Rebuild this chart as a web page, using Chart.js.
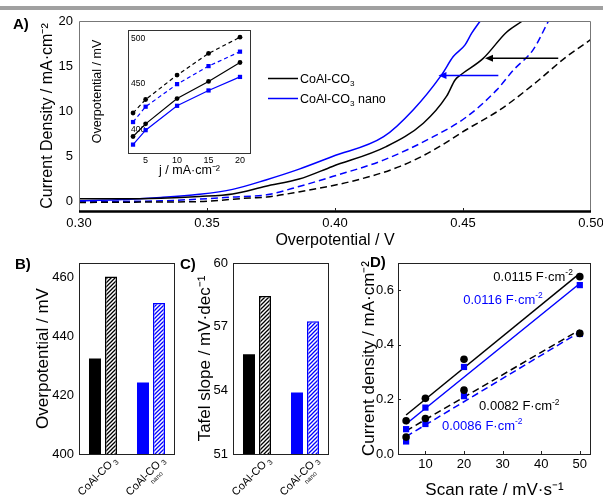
<!DOCTYPE html>
<html>
<head>
<meta charset="utf-8">
<title>CoAl-CO3 OER</title>
<script src="https://cdn.jsdelivr.net/npm/chart.js@4.4.1/dist/chart.umd.min.js"></script>
<style>
  body { margin: 0; background: #fff; }
  #page { position: relative; width: 603px; height: 495px; overflow: hidden; font-family: "Liberation Sans", Arial, sans-serif; }
  #page canvas { position: absolute; }
  #topbar { position: absolute; left: 0; top: 6px; width: 603px; height: 4px; background: #a0a0a0; }
  .tag { position: absolute; font-weight: bold; font-size: 15px; line-height: 15px; color: #000; }
</style>
</head>
<body>
<div id="page">
  <div id="topbar"></div>
  <canvas id="cA" width="603" height="250" style="left:0;top:0"></canvas>
  <canvas id="cIn" width="180" height="160" style="left:80px;top:24px"></canvas>
  <canvas id="cB" width="185" height="250" style="left:0;top:245px"></canvas>
  <canvas id="cC" width="155" height="250" style="left:185px;top:245px"></canvas>
  <canvas id="cD" width="263" height="258" style="left:340px;top:245px"></canvas>
  <div class="tag" style="left:13px;top:16px">A)</div>
  <div class="tag" style="left:15px;top:256px">B)</div>
  <div class="tag" style="left:180px;top:256px">C)</div>
  <div class="tag" style="left:370px;top:254px">D)</div>
</div>
<script>
// ---------- data ----------
var blue = '#0000ff';

// A) polarisation curves, overpotential (V) vs current density (mA cm-2)
var potBlack = [0.300, 0.315, 0.332, 0.347, 0.360, 0.373, 0.386, 0.399, 0.420, 0.4345, 0.4436, 0.4469, 0.4488, 0.4579, 0.467, 0.4729];
var curBlack = [0.30, 0.30, 0.37, 0.56, 0.85, 1.70, 2.50, 3.90, 6.10, 8.70, 11.7, 13.5, 14.0, 15.9, 18.8, 20.0];
var potBlue = [0.300, 0.315, 0.332, 0.347, 0.360, 0.373, 0.386, 0.399, 0.419, 0.4306, 0.4417, 0.4462, 0.4508, 0.4534, 0.4566];
var curBlue = [0.10, 0.20, 0.45, 0.80, 1.35, 2.40, 3.60, 5.00, 7.20, 10.2, 14.1, 16.1, 17.4, 18.7, 20.0];
var potBlackDash = [0.300, 0.332, 0.347, 0.3668, 0.3733, 0.3863, 0.4059, 0.4254, 0.4384, 0.4514, 0.4645, 0.4775, 0.4905, 0.500];
var curBlackDash = [-0.1, -0.05, 0.0, 0.4, 0.5, 1.1, 2.2, 3.9, 5.7, 8.0, 10.2, 13.0, 16.1, 18.0];
var potBlueDash = [0.300, 0.332, 0.347, 0.360, 0.3733, 0.3863, 0.3993, 0.4189, 0.4384, 0.4514, 0.4632, 0.4697, 0.4775, 0.4833];
var curBlueDash = [0.0, 0.08, 0.27, 0.50, 0.75, 1.7, 2.8, 4.6, 7.2, 9.4, 12.4, 14.6, 16.9, 20.0];
var potTicks = [0.30, 0.35, 0.40, 0.45, 0.50];
var curTicks = [0, 5, 10, 15, 20];
// arrows: [from V, to V, at j]
var arrowBlack = [0.4872, 0.4586, 15.9];
var arrowBlue = [0.4638, 0.4404, 14.0];
var legendNames = ['CoAl-CO', 'CoAl-CO'];
var legendSubs = ['3', '3'];
var legendTails = ['', ' nano'];

// inset: overpotential (mV) at given j
var insetJ = [3, 5, 10, 15, 20];
var insetBlackDash = [418, 433, 460, 484, 502];
var insetBlueDash = [408, 425, 450, 470, 486];
var insetBlack = [392, 406, 434, 453, 474];
var insetBlue = [383, 399, 426, 443, 458];
var insetXTicks = [5, 10, 15, 20];
var insetYTicks = [400, 450, 500];

// B) and C) bars
var barNames = ['CoAl-CO', 'CoAl-CO'];
var barSubs = ['3', '3'];
var barNotes = ['', 'nano'];
var overpotSolid = [432.5, 424.3];
var overpotHatched = [460.4, 451.4];
var overpotTicks = [400, 420, 440, 460];
var tafelSolid = [55.7, 53.9];
var tafelHatched = [58.45, 57.25];
var tafelTicks = [51, 54, 57, 60];

// D) double layer capacitance
var scanRates = [5, 10, 20, 50];
var dBlackUpper = [0.122, 0.204, 0.347, 0.650];
var dBlueUpper = [0.091, 0.170, 0.319, 0.619];
var dBlackLower = [0.062, 0.130, 0.234, 0.442];
var dBlueLower = [0.046, 0.110, 0.212, 0.440];
var fitX = [5, 50];
var fitBlackUpper = [0.143, 0.662];
var fitBlueUpper = [0.110, 0.625];
var fitBlackLower = [0.085, 0.455];
var fitBlueLower = [0.064, 0.447];
var capValues = ['0.0115', '0.0116', '0.0082', '0.0086'];
var scanTicks = [10, 20, 30, 40, 50];
var dYTicks = [0, 0.2, 0.4, 0.6];

// ---------- helpers ----------
var FONT = '"Liberation Sans", Arial, sans-serif';
Chart.defaults.font.family = FONT;
Chart.defaults.color = '#000';
Chart.defaults.animation = false;
Chart.defaults.responsive = false;
Chart.defaults.plugins.legend.display = false;
Chart.defaults.plugins.tooltip.enabled = false;

function xy(xs, ys) {
  return xs.map(function (x, i) { return { x: x, y: ys[i] }; });
}
function fixedTicks(vals) {
  return function (scale) { scale.ticks = vals.map(function (v) { return { value: v }; }); };
}
function fixBox(size, horiz) {
  return function (scale) {
    if (horiz) scale.height = size; else scale.width = size;
    scale.paddingTop = 0; scale.paddingBottom = 0;
    scale.paddingLeft = 0; scale.paddingRight = 0;
  };
}
function hatch(color) {
  var c = document.createElement('canvas');
  c.width = 4; c.height = 4;
  var g = c.getContext('2d');
  g.fillStyle = '#fff';
  g.fillRect(0, 0, 4, 4);
  g.strokeStyle = color;
  g.lineWidth = 1.3;
  g.beginPath();
  g.moveTo(0, 4); g.lineTo(4, 0);
  g.moveTo(-1, 1); g.lineTo(1, -1);
  g.moveTo(3, 5); g.lineTo(5, 3);
  g.stroke();
  return g.createPattern(c, 'repeat');
}
// parts: [text, 'sup'|'sub'|undefined]
function richText(ctx, x, y, parts, size, color) {
  ctx.save();
  ctx.fillStyle = color;
  ctx.textBaseline = 'alphabetic';
  ctx.textAlign = 'left';
  parts.forEach(function (p) {
    var s = p[1] ? size * 0.65 : size;
    ctx.font = s + 'px ' + FONT;
    var dy = p[1] === 'sup' ? -size * 0.42 : (p[1] === 'sub' ? size * 0.25 : 0);
    ctx.fillText(p[0], x, y + dy);
    x += ctx.measureText(p[0]).width;
  });
  ctx.restore();
}
function arrow(ctx, x1, x2, y, color) {
  ctx.save();
  ctx.strokeStyle = color; ctx.fillStyle = color; ctx.lineWidth = 1.5;
  ctx.beginPath(); ctx.moveTo(x1, y); ctx.lineTo(x2 + 6, y); ctx.stroke();
  ctx.beginPath(); ctx.moveTo(x2, y); ctx.lineTo(x2 + 8, y - 3.5); ctx.lineTo(x2 + 8, y + 3.5); ctx.closePath(); ctx.fill();
  ctx.restore();
}
// small tick marks pointing into the plot area
function innerTicks(chart, xVals, yVals, len) {
  var ctx = chart.ctx, a = chart.chartArea, xs = chart.scales.x, ys = chart.scales.y;
  ctx.save();
  ctx.strokeStyle = '#222'; ctx.lineWidth = 1;
  ctx.beginPath();
  xVals.forEach(function (v) {
    var px = Math.round(xs.getPixelForValue(v)) + 0.5;
    ctx.moveTo(px, a.bottom); ctx.lineTo(px, a.bottom - len);
  });
  yVals.forEach(function (v) {
    var py = Math.round(ys.getPixelForValue(v)) + 0.5;
    ctx.moveTo(a.left, py); ctx.lineTo(a.left + len, py);
  });
  ctx.stroke();
  ctx.restore();
}

var framePlugin = {
  id: 'frame',
  afterDatasetsDraw: function (chart, args, opts) {
    var a = chart.chartArea, ctx = chart.ctx;
    ctx.save();
    ctx.strokeStyle = opts.color || '#222';
    ctx.lineWidth = opts.width || 1;
    ctx.strokeRect(Math.round(a.left) + 0.5, Math.round(a.top) + 0.5, Math.round(a.right - a.left) - 1, Math.round(a.bottom - a.top));
    ctx.restore();
  }
};

// ---------- A) main curves ----------
var panelAPlugin = {
  id: 'panelA',
  afterDatasetsDraw: function (chart) {
    var ctx = chart.ctx, a = chart.chartArea, xs = chart.scales.x, ys = chart.scales.y;
    ctx.save();
    ctx.lineWidth = 1; ctx.strokeStyle = '#777';
    ctx.beginPath();
    ctx.moveTo(a.left + 0.5, a.bottom); ctx.lineTo(a.left + 0.5, a.top + 0.5);
    ctx.lineTo(a.right - 0.5, a.top + 0.5); ctx.lineTo(a.right - 0.5, a.bottom);
    ctx.stroke();
    ctx.lineWidth = 2.5; ctx.strokeStyle = '#000';
    ctx.beginPath(); ctx.moveTo(a.left, a.bottom + 0.5); ctx.lineTo(a.right, a.bottom + 0.5); ctx.stroke();
    ctx.restore();
    innerTicks(chart, potTicks.slice(1, 4), [], 3);

    arrow(ctx, xs.getPixelForValue(arrowBlack[0]), xs.getPixelForValue(arrowBlack[1]), ys.getPixelForValue(arrowBlack[2]), '#000');
    arrow(ctx, xs.getPixelForValue(arrowBlue[0]), xs.getPixelForValue(arrowBlue[1]), ys.getPixelForValue(arrowBlue[2]), blue);

    // legend
    var cols = ['#000', blue];
    for (var i = 0; i < 2; i++) {
      var ly = 78.5 + i * 20;
      ctx.save();
      ctx.strokeStyle = cols[i]; ctx.lineWidth = 1.5;
      ctx.beginPath(); ctx.moveTo(268, ly); ctx.lineTo(298, ly); ctx.stroke();
      ctx.restore();
      var parts = [[legendNames[i]], [legendSubs[i], 'sub']];
      if (legendTails[i]) parts.push([legendTails[i]]);
      richText(ctx, 300, ly + 4.5, parts, 12.5, '#000');
    }
  }
};

new Chart(document.getElementById('cA'), {
  type: 'line',
  data: {
    datasets: [
      { data: xy(potBlackDash, curBlackDash), borderColor: '#000', borderDash: [7, 4] },
      { data: xy(potBlueDash, curBlueDash), borderColor: blue, borderDash: [7, 4] },
      { data: xy(potBlack, curBlack), borderColor: '#000' },
      { data: xy(potBlue, curBlue), borderColor: blue }
    ]
  },
  options: {
    layout: { padding: { left: 0, top: 21, right: 12, bottom: 0 } },
    elements: {
      point: { radius: 0 },
      line: { borderWidth: 1.5, cubicInterpolationMode: 'monotone', fill: false }
    },
    scales: {
      x: {
        type: 'linear', min: 0.30, max: 0.50,
        afterBuildTicks: fixedTicks(potTicks), afterFit: fixBox(39, true),
        grid: { display: false, drawTicks: false }, border: { display: false },
        ticks: { font: { size: 13 }, padding: 5, callback: function (v) { return v.toFixed(2); } },
        title: { display: true, text: 'Overpotential / V', font: { size: 16 }, padding: { top: 0, bottom: 0 } }
      },
      y: {
        min: -1.05, max: 20.05,
        afterBuildTicks: fixedTicks(curTicks), afterFit: fixBox(79, false),
        grid: { display: false, drawTicks: false }, border: { display: false },
        ticks: { font: { size: 13 }, padding: 6 },
        title: { display: true, text: 'Current Density / mA·cm⁻²', font: { size: 16 }, padding: { top: 38, bottom: 0 } }
      }
    }
  },
  plugins: [panelAPlugin]
});

// ---------- inset ----------
function insetSet(ys, color, dashed, style, r) {
  return {
    data: xy(insetJ, ys), borderColor: color, borderWidth: 1.2, borderDash: dashed ? [4, 3] : [],
    pointStyle: style, pointRadius: r, pointBackgroundColor: color, pointBorderWidth: 0, tension: 0
  };
}
new Chart(document.getElementById('cIn'), {
  type: 'line',
  data: {
    datasets: [
      insetSet(insetBlackDash, '#000', true, 'circle', 2.4),
      insetSet(insetBlueDash, blue, true, 'rect', 3),
      insetSet(insetBlack, '#000', false, 'circle', 2.4),
      insetSet(insetBlue, blue, false, 'rect', 3)
    ]
  },
  options: {
    layout: { padding: { left: 0, top: 6, right: 9, bottom: 0 } },
    scales: {
      x: {
        type: 'linear', min: 2.2, max: 21.75,
        afterBuildTicks: fixedTicks(insetXTicks), afterFit: fixBox(31, true),
        grid: { display: false, drawTicks: false }, border: { display: false },
        ticks: { font: { size: 9 }, padding: 2 },
        title: { display: true, text: 'j / mA·cm⁻²', font: { size: 12.5 }, padding: { top: 0, bottom: 6 } }
      },
      y: {
        min: 373.7, max: 510,
        afterBuildTicks: fixedTicks(insetYTicks), afterFit: fixBox(48, false),
        grid: { display: false, drawTicks: false }, border: { display: false },
        ticks: { font: { size: 8.5 }, padding: 3, mirror: true },
        title: { display: true, text: 'Overpotential / mV', font: { size: 12.5 }, padding: { top: 10, bottom: 0 } }
      }
    },
    plugins: { frame: { color: '#333' } }
  },
  plugins: [framePlugin]
});

// ---------- B) and C) bars ----------
var barLabelPlugin = {
  id: 'barLabels',
  afterDraw: function (chart) {
    var ctx = chart.ctx, xs = chart.scales.x, bottom = chart.chartArea.bottom;
    for (var i = 0; i < barNames.length; i++) {
      var cx = xs.getPixelForValue(i);
      ctx.save();
      ctx.translate(cx + 8, bottom + 9);
      ctx.rotate(-Math.PI / 4);
      ctx.fillStyle = '#000';
      ctx.textBaseline = 'middle';
      ctx.textAlign = 'right';
      ctx.font = '11px ' + FONT;
      ctx.fillText(barNames[i], 0, 0);
      ctx.textAlign = 'left';
      ctx.font = '7.5px ' + FONT;
      ctx.fillText(barSubs[i], 2, 3.5);
      if (barNotes[i]) {
        ctx.textAlign = 'center';
        ctx.font = '6.5px ' + FONT;
        ctx.fillText(barNotes[i], -12, 9);
      }
      ctx.restore();
    }
  }
};

function barChart(id, solid, hatched, yMin, yMax, ticks, title, yWidth, titlePad, rightPad) {
  return new Chart(document.getElementById(id), {
    type: 'bar',
    data: {
      labels: barNames.map(function (n, i) { return n + barSubs[i] + (barNotes[i] ? ' ' + barNotes[i] : ''); }),
      datasets: [
        { data: solid, backgroundColor: ['#000', blue], borderWidth: 0 },
        { data: hatched, backgroundColor: [hatch('#000'), hatch(blue)], borderColor: ['#000', blue], borderWidth: 1.5 }
      ]
    },
    options: {
      layout: { padding: { left: 0, top: 18, right: rightPad, bottom: 0 } },
      datasets: { bar: { categoryPercentage: 0.667, barPercentage: 0.75 } },
      scales: {
        x: {
          afterFit: fixBox(41, true),
          grid: { display: false, drawTicks: false }, border: { display: false },
          ticks: { display: false }
        },
        y: {
          min: yMin, max: yMax,
          afterBuildTicks: fixedTicks(ticks), afterFit: fixBox(yWidth, false),
          grid: { display: false, drawTicks: false }, border: { display: false },
          ticks: { font: { size: 13 }, padding: 5 },
          title: { display: true, text: title, font: { size: 17 }, padding: { top: titlePad, bottom: 0 } }
        }
      },
      plugins: { frame: { color: '#222' } }
    },
    plugins: [framePlugin, barLabelPlugin]
  });
}
barChart('cB', overpotSolid, overpotHatched, 400, 465, overpotTicks, 'Overpotential / mV', 79, 33, 10);
barChart('cC', tafelSolid, tafelHatched, 51, 60, tafelTicks, 'Tafel slope / mV·dec⁻¹', 48, 10, 11);

// ---------- D) capacitance ----------
var capPlugin = {
  id: 'capLabels',
  afterDatasetsDraw: function (chart) {
    var ctx = chart.ctx, xs = chart.scales.x, ys = chart.scales.y;
    innerTicks(chart, scanTicks, dYTicks.slice(1), 3);
    var spots = [[27.6, 0.652, '#000'], [19.8, 0.568, blue], [23.9, 0.177, '#000'], [14.3, 0.107, blue]];
    for (var i = 0; i < capValues.length; i++) {
      richText(ctx, xs.getPixelForValue(spots[i][0]), ys.getPixelForValue(spots[i][1]) + 4.7,
        [[capValues[i] + ' F·cm'], ['-2', 'sup']], 13, spots[i][2]);
    }
  }
};
function marks(ys, color, style, r) {
  return { data: xy(scanRates, ys), showLine: false, pointStyle: style, pointRadius: r, pointBackgroundColor: color, pointBorderWidth: 0 };
}
function fit(ys, color, dashed) {
  return { data: xy(fitX, ys), borderColor: color, borderWidth: 1.5, borderDash: dashed ? [7, 4] : [], pointRadius: 0 };
}
new Chart(document.getElementById('cD'), {
  type: 'line',
  data: {
    datasets: [
      marks(dBlackUpper, '#000', 'circle', 3.8),
      marks(dBlueUpper, blue, 'rect', 4.4),
      marks(dBlackLower, '#000', 'circle', 3.8),
      marks(dBlueLower, blue, 'rect', 4.4),
      fit(fitBlackUpper, '#000', false),
      fit(fitBlueUpper, blue, false),
      fit(fitBlackLower, '#000', true),
      fit(fitBlueLower, blue, true)
    ]
  },
  options: {
    layout: { padding: { left: 0, top: 18, right: 12, bottom: 0 } },
    scales: {
      x: {
        type: 'linear', min: 2.9, max: 52.9,
        afterBuildTicks: fixedTicks(scanTicks), afterFit: fixBox(49, true),
        grid: { display: false, drawTicks: false }, border: { display: false },
        ticks: { font: { size: 13 }, padding: 3 },
        title: { display: true, text: 'Scan rate / mV·s⁻¹', font: { size: 17 }, padding: { top: 0, bottom: 2 } }
      },
      y: {
        min: 0, max: 0.7,
        afterBuildTicks: fixedTicks(dYTicks), afterFit: fixBox(58, false),
        grid: { display: false, drawTicks: false }, border: { display: false },
        ticks: { font: { size: 13 }, padding: 4, callback: function (v) { return v.toFixed(1); } },
        title: { display: true, text: 'Current density / mA·cm⁻²', font: { size: 17 }, padding: { top: 19, bottom: 0 } }
      }
    },
    plugins: { frame: { color: '#222' } }
  },
  plugins: [framePlugin, capPlugin]
});
</script>
</body>
</html>
